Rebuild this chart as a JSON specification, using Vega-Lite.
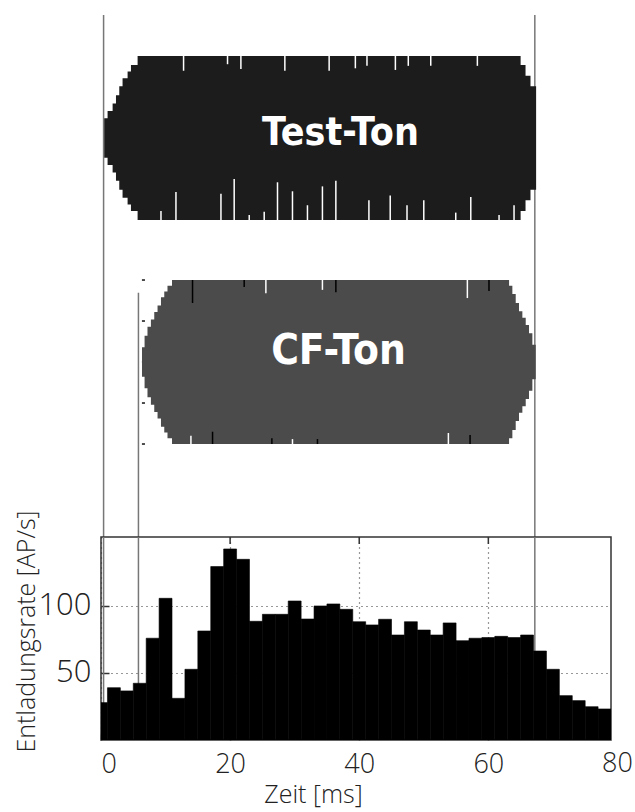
{
  "$schema": "https://vega.github.io/schema/vega-lite/v6.json",
  "background": "white",
  "padding": {"left": 13, "top": 0, "right": 3, "bottom": 0},
  "spacing": 0,
  "bounds": "flush",
  "config": {
    "view": {"stroke": null},
    "font": "Open Sans"
  },
  "resolve": {"scale": {"x": "independent", "y": "independent"}},
  "datasets": {
    "linien": [
      {"linie": "Test-Ton Beginn", "t": 0.4},
      {"linie": "CF-Ton Beginn", "t": 5.8},
      {"linie": "Tonende", "t": 67.2}
    ],
    "test_huelle": [
      {"t": 0.5, "oben": 0.24, "unten": -0.24},
      {"t": 1.02, "oben": 0.33, "unten": -0.33},
      {"t": 1.8, "oben": 0.42, "unten": -0.42},
      {"t": 2.32, "oben": 0.52, "unten": -0.52},
      {"t": 2.83, "oben": 0.63, "unten": -0.63},
      {"t": 3.34, "oben": 0.73, "unten": -0.73},
      {"t": 4.12, "oben": 0.81, "unten": -0.81},
      {"t": 4.64, "oben": 0.89, "unten": -0.89},
      {"t": 5.67, "oben": 1.0, "unten": -1.0},
      {"t": 65.0, "oben": 0.89, "unten": -0.89},
      {"t": 65.76, "oben": 0.76, "unten": -0.76},
      {"t": 66.53, "oben": 0.63, "unten": -0.63},
      {"t": 67.4, "oben": 0.63, "unten": -0.63}
    ],
    "cf_huelle": [
      {"t": 6.35, "oben": 0.18, "unten": -0.18},
      {"t": 6.75, "oben": 0.32, "unten": -0.32},
      {"t": 7.2, "oben": 0.43, "unten": -0.43},
      {"t": 7.73, "oben": 0.52, "unten": -0.52},
      {"t": 8.25, "oben": 0.61, "unten": -0.61},
      {"t": 8.76, "oben": 0.69, "unten": -0.69},
      {"t": 9.29, "oben": 0.79, "unten": -0.79},
      {"t": 9.8, "oben": 0.86, "unten": -0.86},
      {"t": 10.3, "oben": 0.93, "unten": -0.93},
      {"t": 11.0, "oben": 1.0, "unten": -1.0},
      {"t": 63.21, "oben": 0.93, "unten": -0.93},
      {"t": 63.72, "oben": 0.83, "unten": -0.83},
      {"t": 64.24, "oben": 0.72, "unten": -0.72},
      {"t": 64.75, "oben": 0.62, "unten": -0.62},
      {"t": 65.27, "oben": 0.54, "unten": -0.54},
      {"t": 65.79, "oben": 0.45, "unten": -0.45},
      {"t": 66.3, "oben": 0.35, "unten": -0.35},
      {"t": 66.82, "oben": 0.21, "unten": -0.21},
      {"t": 67.34, "oben": 0.21, "unten": -0.21}
    ],
    "test_striche": [
      {"t": 12.79, "von": 1, "bis": 0.82},
      {"t": 19.6, "von": 1, "bis": 0.9},
      {"t": 21.67, "von": 1, "bis": 0.84},
      {"t": 28.48, "von": 1, "bis": 0.82},
      {"t": 35.34, "von": 1, "bis": 0.82},
      {"t": 39.4, "von": 1, "bis": 0.85},
      {"t": 41.2, "von": 1, "bis": 0.88},
      {"t": 45.6, "von": 1, "bis": 0.83},
      {"t": 47.6, "von": 1, "bis": 0.88},
      {"t": 51.08, "von": 1, "bis": 0.88},
      {"t": 58.3, "von": 1, "bis": 0.88},
      {"t": 9.29, "von": -1, "bis": -0.89},
      {"t": 11.61, "von": -1, "bis": -0.66},
      {"t": 18.58, "von": -1, "bis": -0.68},
      {"t": 20.63, "von": -1, "bis": -0.5},
      {"t": 22.96, "von": -1, "bis": -0.94},
      {"t": 25.28, "von": -1, "bis": -0.9},
      {"t": 27.34, "von": -1, "bis": -0.54},
      {"t": 29.66, "von": -1, "bis": -0.65},
      {"t": 31.98, "von": -1, "bis": -0.82},
      {"t": 34.3, "von": -1, "bis": -0.59},
      {"t": 36.38, "von": -1, "bis": -0.52},
      {"t": 41.5, "von": -1, "bis": -0.76},
      {"t": 44.8, "von": -1, "bis": -0.7},
      {"t": 47.4, "von": -1, "bis": -0.82},
      {"t": 50.0, "von": -1, "bis": -0.76},
      {"t": 54.95, "von": -1, "bis": -0.91},
      {"t": 57.28, "von": -1, "bis": -0.72},
      {"t": 61.66, "von": -1, "bis": -0.94},
      {"t": 63.98, "von": -1, "bis": -0.82}
    ],
    "cf_striche": [
      {"t": 14.18, "von": 1, "bis": 0.72, "art": "dunkel"},
      {"t": 22.18, "von": 1, "bis": 0.915, "art": "dunkel"},
      {"t": 25.54, "von": 1, "bis": 0.84, "art": "hell"},
      {"t": 34.3, "von": 1, "bis": 0.88, "art": "hell"},
      {"t": 36.38, "von": 1, "bis": 0.85, "art": "dunkel"},
      {"t": 56.75, "von": 1, "bis": 0.78, "art": "hell"},
      {"t": 60.1, "von": 1, "bis": 0.866, "art": "dunkel"},
      {"t": 13.93, "von": -1, "bis": -0.9, "art": "hell"},
      {"t": 17.28, "von": -1, "bis": -0.85, "art": "dunkel"},
      {"t": 26.47, "von": -1, "bis": -0.93, "art": "dunkel"},
      {"t": 29.66, "von": -1, "bis": -0.94, "art": "hell"},
      {"t": 33.53, "von": -1, "bis": -0.94, "art": "dunkel"},
      {"t": 53.81, "von": -1, "bis": -0.866, "art": "hell"},
      {"t": 57.17, "von": -1, "bis": -0.89, "art": "dunkel"}
    ],
    "cf_skala": [{"a": -1}, {"a": -0.5}, {"a": 0}, {"a": 0.5}, {"a": 1}],
    "oben_ticks": [{"t": 20}, {"t": 40}, {"t": 60}],
    "raten": [
      {"von": -1, "bis": 1, "rate": 27.8},
      {"von": 1, "bis": 3, "rate": 38.9},
      {"von": 3, "bis": 5, "rate": 36.5},
      {"von": 5, "bis": 7, "rate": 42.2},
      {"von": 7, "bis": 9, "rate": 75.7},
      {"von": 9, "bis": 11, "rate": 105.4},
      {"von": 11, "bis": 13, "rate": 31.0},
      {"von": 13, "bis": 15, "rate": 52.6},
      {"von": 15, "bis": 17, "rate": 81.1},
      {"von": 17, "bis": 19, "rate": 129.0},
      {"von": 19, "bis": 21, "rate": 142.1},
      {"von": 21, "bis": 23, "rate": 134.4},
      {"von": 23, "bis": 25, "rate": 88.3},
      {"von": 25, "bis": 27, "rate": 93.5},
      {"von": 27, "bis": 29, "rate": 93.5},
      {"von": 29, "bis": 31, "rate": 103.4},
      {"von": 31, "bis": 33, "rate": 90.0},
      {"von": 33, "bis": 35, "rate": 99.7},
      {"von": 35, "bis": 37, "rate": 101.2},
      {"von": 37, "bis": 39, "rate": 97.2},
      {"von": 39, "bis": 41, "rate": 88.0},
      {"von": 41, "bis": 43, "rate": 85.6},
      {"von": 43, "bis": 45, "rate": 89.8},
      {"von": 45, "bis": 47, "rate": 78.1},
      {"von": 47, "bis": 49, "rate": 88.0},
      {"von": 49, "bis": 51, "rate": 81.8},
      {"von": 51, "bis": 53, "rate": 78.1},
      {"von": 53, "bis": 55, "rate": 87.1},
      {"von": 55, "bis": 57, "rate": 73.9},
      {"von": 57, "bis": 59, "rate": 75.7},
      {"von": 59, "bis": 61, "rate": 76.2},
      {"von": 61, "bis": 63, "rate": 77.1},
      {"von": 63, "bis": 65, "rate": 76.2},
      {"von": 65, "bis": 67, "rate": 78.1},
      {"von": 67, "bis": 69, "rate": 66.2},
      {"von": 69, "bis": 71, "rate": 52.6},
      {"von": 71, "bis": 73, "rate": 33.0},
      {"von": 73, "bis": 75, "rate": 29.3},
      {"von": 75, "bis": 77, "rate": 24.8},
      {"von": 77, "bis": 79, "rate": 23.1}
    ]
  },
  "vconcat": [
    {
      "width": 510,
      "height": 276,
      "layer": [
        {
          "data": {"name": "linien"},
          "transform": [{"filter": "datum.linie !== 'CF-Ton Beginn'"}],
          "mark": {"type": "rule", "color": "#777777", "strokeWidth": 1.5},
          "encoding": {
            "x": {"field": "t", "type": "quantitative", "scale": {"domain": [0, 79], "nice": false, "zero": false}, "axis": null},
            "y": {"datum": 1.5, "type": "quantitative", "scale": {"domain": [-1.683, 1.683], "nice": false, "zero": false}, "axis": null},
            "y2": {"datum": -1.683}
          }
        },
        {
          "data": {"name": "test_huelle"},
          "mark": {"type": "area", "interpolate": "step-after", "color": "#1c1c1c", "opacity": 1},
          "encoding": {
            "x": {"field": "t", "type": "quantitative", "scale": {"domain": [0, 79], "nice": false, "zero": false}, "axis": null},
            "y": {"field": "oben", "type": "quantitative", "scale": {"domain": [-1.683, 1.683], "nice": false, "zero": false}, "axis": null},
            "y2": {"field": "unten"}
          }
        },
        {
          "data": {"name": "test_striche"},
          "mark": {"type": "rule", "color": "#ffffff", "strokeWidth": 1.5},
          "encoding": {
            "x": {"field": "t", "type": "quantitative", "scale": {"domain": [0, 79], "nice": false, "zero": false}, "axis": null},
            "y": {"field": "von", "type": "quantitative", "scale": {"domain": [-1.683, 1.683], "nice": false, "zero": false}, "axis": null},
            "y2": {"field": "bis"}
          }
        },
        {
          "data": {"values": [{"name": "Test-Ton"}]},
          "mark": {"type": "text", "color": "#ffffff", "font": "Liberation Sans Narrow, DejaVu Sans Condensed, Liberation Sans, sans-serif", "fontWeight": "bold", "fontSize": 39, "align": "center", "baseline": "alphabetic"},
          "encoding": {
            "x": {"datum": 37.1, "type": "quantitative", "axis": null},
            "y": {"datum": -0.085, "type": "quantitative", "axis": null},
            "text": {"field": "name"}
          }
        }
      ]
    },
    {
      "width": 510,
      "height": 261,
      "layer": [
        {
          "data": {"name": "linien"},
          "transform": [{"filter": "datum.linie !== 'CF-Ton Beginn'"}],
          "mark": {"type": "rule", "color": "#777777", "strokeWidth": 1.5},
          "encoding": {
            "x": {"field": "t", "type": "quantitative", "scale": {"domain": [0, 79], "nice": false, "zero": false}, "axis": null}
          }
        },
        {
          "data": {"name": "linien"},
          "transform": [{"filter": "datum.linie === 'CF-Ton Beginn'"}],
          "mark": {"type": "rule", "color": "#777777", "strokeWidth": 1.5},
          "encoding": {
            "x": {"field": "t", "type": "quantitative", "scale": {"domain": [0, 79], "nice": false, "zero": false}, "axis": null},
            "y": {"datum": 0.845, "type": "quantitative", "scale": {"domain": [-2.134, 1.049], "nice": false, "zero": false}, "axis": null},
            "y2": {"datum": -2.134}
          }
        },
        {
          "data": {"name": "cf_skala"},
          "mark": {"type": "rule", "color": "#111111", "strokeWidth": 1.5},
          "encoding": {
            "x": {"datum": 6.34, "type": "quantitative", "axis": null},
            "x2": {"datum": 6.81},
            "y": {"field": "a", "type": "quantitative", "scale": {"domain": [-2.134, 1.049], "nice": false, "zero": false}, "axis": null}
          }
        },
        {
          "data": {"name": "cf_huelle"},
          "mark": {"type": "area", "interpolate": "step-after", "color": "#4b4b4b", "opacity": 1},
          "encoding": {
            "x": {"field": "t", "type": "quantitative", "scale": {"domain": [0, 79], "nice": false, "zero": false}, "axis": null},
            "y": {"field": "oben", "type": "quantitative", "scale": {"domain": [-2.134, 1.049], "nice": false, "zero": false}, "axis": null},
            "y2": {"field": "unten"}
          }
        },
        {
          "data": {"name": "cf_striche"},
          "transform": [{"filter": "datum.art === 'hell'"}],
          "mark": {"type": "rule", "color": "#ffffff", "strokeWidth": 1.5},
          "encoding": {
            "x": {"field": "t", "type": "quantitative", "scale": {"domain": [0, 79], "nice": false, "zero": false}, "axis": null},
            "y": {"field": "von", "type": "quantitative", "scale": {"domain": [-2.134, 1.049], "nice": false, "zero": false}, "axis": null},
            "y2": {"field": "bis"}
          }
        },
        {
          "data": {"name": "cf_striche"},
          "transform": [{"filter": "datum.art === 'dunkel'"}],
          "mark": {"type": "rule", "color": "#000000", "strokeWidth": 1.5},
          "encoding": {
            "x": {"field": "t", "type": "quantitative", "scale": {"domain": [0, 79], "nice": false, "zero": false}, "axis": null},
            "y": {"field": "von", "type": "quantitative", "scale": {"domain": [-2.134, 1.049], "nice": false, "zero": false}, "axis": null},
            "y2": {"field": "bis"}
          }
        },
        {
          "data": {"values": [{"name": "CF-Ton"}]},
          "mark": {"type": "text", "color": "#ffffff", "font": "Liberation Sans Narrow, DejaVu Sans Condensed, Liberation Sans, sans-serif", "fontWeight": "bold", "fontSize": 42, "align": "center", "baseline": "alphabetic"},
          "encoding": {
            "x": {"datum": 36.8, "type": "quantitative", "axis": null},
            "y": {"datum": -0.02, "type": "quantitative", "axis": null},
            "text": {"field": "name"}
          }
        }
      ]
    },
    {
      "width": 510,
      "height": 203,
      "view": {"stroke": "#333333", "strokeWidth": 1.5},
      "layer": [
        {
          "data": {"name": "linien"},
          "mark": {"type": "rule", "color": "#777777", "strokeWidth": 1.5},
          "encoding": {
            "x": {"field": "t", "type": "quantitative", "scale": {"domain": [0, 79], "nice": false, "zero": false}}
          }
        },
        {
          "data": {"name": "raten"},
          "mark": {"type": "bar", "color": "#000000", "stroke": "#000000", "strokeWidth": 0.6, "clip": true},
          "encoding": {
            "x": {
              "field": "von", "type": "quantitative",
              "scale": {"domain": [0, 79], "nice": false, "zero": false},
              "axis": {
                "orient": "bottom", "values": [0, 20, 40, 60], "domain": false,
                "grid": true, "gridDash": [1, 4], "gridColor": "#333333", "gridWidth": 1.2,
                "ticks": true, "tickSize": -6, "tickColor": "#333333", "tickWidth": 1.5,
                "labelFont": "Open Sans", "labelFontWeight": 300, "labelFontSize": 27, "labelColor": "#222222",
                "labelPadding": 17, "labelFlush": true,
                "title": "Zeit [ms]", "titleFont": "Open Sans", "titleFontWeight": 300, "titleFontSize": 25, "titleColor": "#222222",
                "titleX": 212, "titleY": 62, "titleAlign": "center", "titleBaseline": "alphabetic"
              }
            },
            "x2": {"field": "bis"},
            "y": {
              "field": "rate", "type": "quantitative",
              "scale": {"domain": [0, 151], "nice": false, "zero": false},
              "axis": {
                "orient": "left", "values": [50, 100], "domain": false,
                "grid": true, "gridDash": [1, 4], "gridColor": "#333333", "gridWidth": 1.2,
                "ticks": true, "tickSize": -8, "tickColor": "#333333", "tickWidth": 1.5,
                "labelFont": "Open Sans", "labelFontWeight": 300, "labelFontSize": 31, "labelColor": "#222222",
                "labelPadding": 18,
                "title": "Entladungsrate [AP/s]", "titleFont": "Open Sans", "titleFontWeight": 300, "titleFontSize": 25, "titleColor": "#222222",
                "titleX": -66.7, "titleY": 94, "titleAngle": 270, "titleAlign": "center", "titleBaseline": "alphabetic"
              }
            },
            "y2": {"datum": 0}
          }
        },
        {
          "data": {"name": "oben_ticks"},
          "mark": {"type": "rule", "color": "#333333", "strokeWidth": 1.5},
          "encoding": {
            "x": {"field": "t", "type": "quantitative", "scale": {"domain": [0, 79], "nice": false, "zero": false}},
            "y": {"datum": 151, "type": "quantitative"},
            "y2": {"datum": 145.8}
          }
        },
        {
          "data": {"values": [{"t": 80}]},
          "mark": {"type": "text", "font": "Open Sans", "fontWeight": 300, "fontSize": 27, "color": "#222222", "align": "center", "baseline": "top"},
          "encoding": {
            "x": {"field": "t", "type": "quantitative", "scale": {"domain": [0, 79], "nice": false, "zero": false}},
            "y": {"datum": -8.2, "type": "quantitative"},
            "text": {"field": "t", "type": "quantitative"}
          }
        }
      ]
    }
  ]
}
